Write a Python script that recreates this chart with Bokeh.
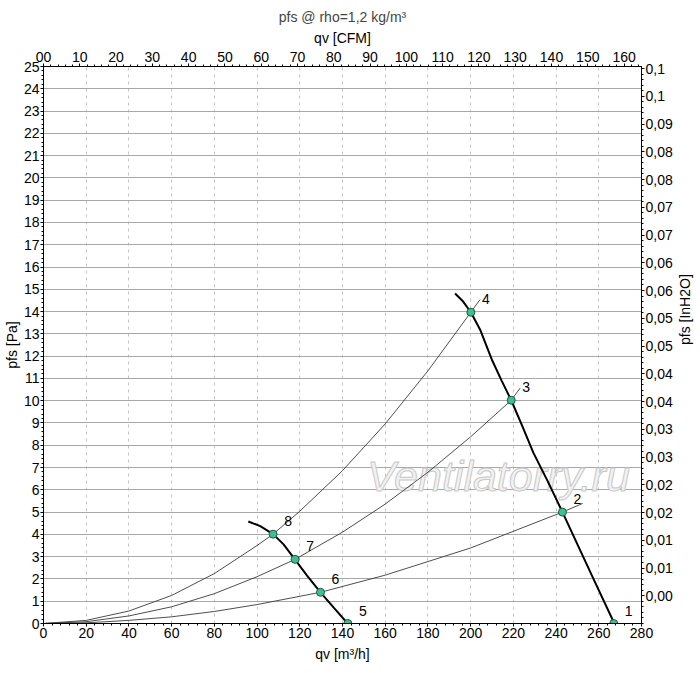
import math
from bokeh.plotting import figure
from bokeh.models import LinearAxis, Range1d, FixedTicker, Label, SingleIntervalTicker
from bokeh.embed import file_html
from bokeh.resources import INLINE
from bokeh.core.properties import value

FONT = "Liberation Sans"

# --- data (qv in m3/h, pfs in Pa) ---
fan_hi_q = [192.7, 196.5, 200.1, 204.4, 209.9, 214.5, 219.0, 224.0, 229.4, 236.0, 243.0, 250.0, 258.0, 267.3]
fan_hi_p = [14.81, 14.45, 13.97, 13.20, 11.85, 10.90, 10.02, 8.90, 7.66, 6.40, 5.00, 3.55, 1.90, 0.0]

fan_lo_q = [95.9, 101.5, 107.5, 112.4, 117.8, 123.4, 129.7, 136.0, 142.4]
fan_lo_p = [4.58, 4.37, 4.01, 3.55, 2.87, 2.15, 1.40, 0.70, 0.0]

sysA_q = [0, 20, 40, 60, 80, 100, 107.5, 120, 140, 160, 180, 200.1, 204.4]
sysA_p = [0, 0.14, 0.56, 1.26, 2.24, 3.50, 4.01, 5.04, 6.86, 8.96, 11.34, 13.97, 14.54]

sysB_q = [0, 20, 40, 60, 80, 100, 117.8, 140, 160, 180, 200, 219.0, 223.2]
sysB_p = [0, 0.08, 0.34, 0.75, 1.34, 2.10, 2.88, 4.10, 5.36, 6.79, 8.38, 10.02, 10.57]

sysC_q = [0, 20, 40, 60, 80, 100, 129.7, 160, 200, 243.0, 252.5]
sysC_p = [0, 0.03, 0.14, 0.30, 0.54, 0.85, 1.40, 2.17, 3.39, 5.00, 5.39]

pt_q = [267.0, 243.0, 219.0, 200.1, 142.5, 129.7, 117.8, 107.5]
pt_p = [0.0, 5.00, 10.02, 13.97, 0.0, 1.40, 2.88, 4.01]
pt_labels = ["1", "2", "3", "4", "5", "6", "7", "8"]

inh2o_ticks = [0.005, 0.01, 0.015, 0.02, 0.025, 0.03, 0.035, 0.04, 0.045, 0.05,
               0.055, 0.06, 0.065, 0.07, 0.075, 0.08, 0.085, 0.09, 0.095, 0.1]
inh2o_labels = ["0,00", "0,01", "0,01", "0,02", "0,02", "0,03", "0,03", "0,04", "0,04", "0,05",
                "0,05", "0,06", "0,06", "0,07", "0,07", "0,08", "0,08", "0,09", "0,1", "0,1"]

PA_TO_INH2O = 0.0040146
CFM_TO_M3H = 1.699

p = figure(frame_width=598, frame_height=557, x_range=Range1d(0, 280), y_range=Range1d(0, 25),
           output_backend="svg", toolbar_location=None,
           min_border_left=35, min_border_right=51, min_border_top=66, min_border_bottom=41)
p.extra_x_ranges = {"cfm": Range1d(0, 280 / CFM_TO_M3H)}
p.extra_y_ranges = {"inh2o": Range1d(0, 25 * PA_TO_INH2O)}

p.title.text = "pfs @ rho=1,2 kg/m³"
p.title.align = "center"
p.title.text_font = FONT
p.title.text_font_size = "14px"
p.title.text_font_style = "normal"
p.title.standoff = 3

p.outline_line_color = "black"
p.background_fill_color = "white"
p.border_fill_color = "white"

def style_axis(ax):
    ax.axis_line_color = "black"
    ax.axis_line_width = 1
    ax.major_tick_in = 0
    ax.major_tick_out = 3
    ax.minor_tick_in = 0
    ax.minor_tick_out = 2
    ax.major_tick_line_color = "black"
    ax.minor_tick_line_color = "black"
    ax.major_label_text_font = FONT
    ax.major_label_text_font_size = "14px"
    ax.major_label_text_color = "black"
    ax.major_label_standoff = 1
    ax.axis_label_text_font = FONT
    ax.axis_label_text_font_size = "14px"
    ax.axis_label_text_font_style = "normal"
    ax.axis_label_text_color = "black"
    ax.axis_label_standoff = 1

xax = p.xaxis[0]
xax.ticker = SingleIntervalTicker(interval=20, num_minor_ticks=5)
xax.axis_label = "qv [m³/h]"
style_axis(xax)
xax.axis_label_standoff = 5

yax = p.yaxis[0]
yax.ticker = SingleIntervalTicker(interval=1, num_minor_ticks=5)
yax.axis_label = "pfs [Pa]"
style_axis(yax)

top = LinearAxis(x_range_name="cfm", axis_label="qv [CFM]",
                 ticker=SingleIntervalTicker(interval=10, num_minor_ticks=5))
top.major_label_overrides = {0: "00"}
style_axis(top)
top.major_label_standoff = 2
top.axis_label_standoff = 3
p.add_layout(top, "above")

right = LinearAxis(y_range_name="inh2o", axis_label="pfs [InH2O]",
                   ticker=FixedTicker(ticks=inh2o_ticks,
                                      minor_ticks=[i * 0.001 for i in range(101)]))
right.major_label_overrides = {t: l for t, l in zip(inh2o_ticks, inh2o_labels)}
style_axis(right)
right.major_label_standoff = 1
right.axis_label_standoff = 9
right.axis_label_orientation = math.pi / 2
p.add_layout(right, "right")

p.xgrid.grid_line_color = "#c4c4c4"
p.xgrid.grid_line_dash = "3 4"
p.ygrid.grid_line_color = "#a8a8a8"
p.ygrid.ticker = SingleIntervalTicker(interval=1)

wm = Label(x=213, y=6.6, text="Ventilatorry.ru", text_font=FONT, text_font_size="43px",
           text_font_style="italic", text_color="#f2f2f2", text_outline_color="#c8c8c8",
           text_align="center", text_baseline="middle", level="underlay")
p.add_layout(wm)

for q, v in [(sysA_q, sysA_p), (sysB_q, sysB_p), (sysC_q, sysC_p)]:
    p.line(q, v, line_color="#3a3a3a", line_width=0.9)

p.line(fan_hi_q, fan_hi_p, line_color="black", line_width=2)
p.line(fan_lo_q, fan_lo_p, line_color="black", line_width=2)

p.scatter(pt_q, pt_p, size=8, fill_color="#3fbf90", line_color="#1d5a42", line_width=1)
p.text(pt_q, pt_p, text=pt_labels, x_offset=15, y_offset=-13, text_align="center",
       text_baseline="middle", text_font=value(FONT), text_font_size="14px", text_color="black")

open("out.html", "w").write(file_html(p, INLINE))
